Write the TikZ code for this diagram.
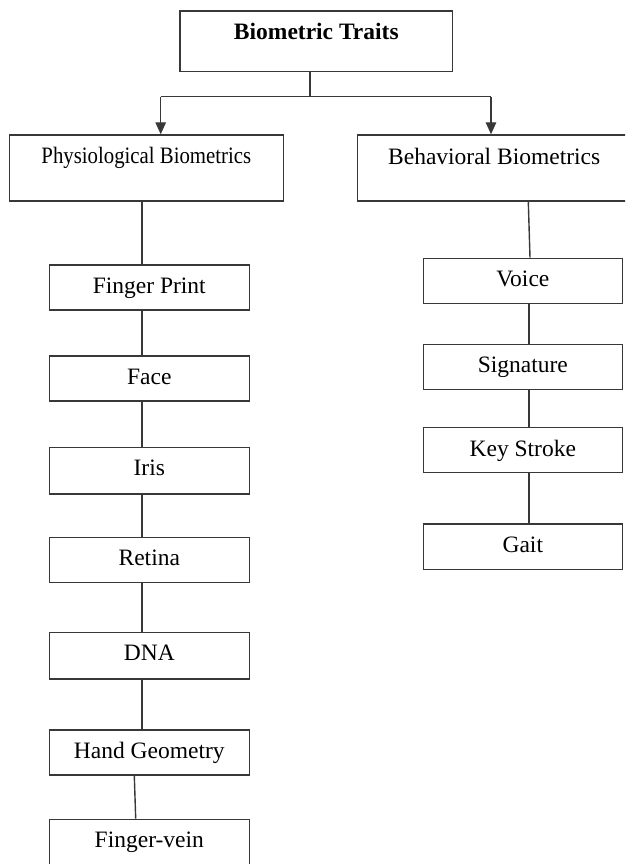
\documentclass[tikz,border=0pt]{standalone}
\usepackage{fontspec}
\setmainfont{Liberation Serif}
\usetikzlibrary{arrows.meta}
\begin{document}
\begin{tikzpicture}[x=1pt,y=-1pt,
  box/.style={draw=black!78, line width=1.4pt, inner sep=0pt, text height=28.5pt,
              font=\fontsize{23.5}{28}\selectfont},
  lbox/.style={box, minimum width=200pt, minimum height=45pt, text depth=16.5pt},
  rbox/.style={box, minimum width=199pt, minimum height=45pt, text depth=16.5pt},
  line/.style={draw=black!78, line width=1.4pt},
  arr/.style={line, -{Triangle[length=12pt,width=10.5pt]}}]
\useasboundingbox (0,0) rectangle (625,864);
\clip (0,0) rectangle (625,864);

% top level
\node[box, minimum width=272.7pt, minimum height=60.7pt, text height=28.3pt, text depth=32.4pt]
  (top) at (316.3,41.35) {\bfseries Biometric Traits};
\node[box, minimum width=274pt, minimum height=66pt, text height=28.3pt, text depth=37.7pt]
  (phys) at (146.3,168) {\scalebox{0.885}[1]{Physiological Biometrics}};
\node[box, minimum width=273.7pt, minimum height=66pt, text height=29.5pt, text depth=36.5pt]
  (beh) at (494.2,168) {Behavioral Biometrics};

% left column
\node[lbox] (fp) at (149.3,287.5) {Finger Print};
\node[lbox] (face) at (149.3,378.5) {Face};
\node[lbox, minimum height=46.7pt, text depth=18.2pt] (iris) at (149.3,470.65) {Iris};
\node[lbox] (retina) at (149.3,559.8) {Retina};
\node[lbox, minimum height=46.7pt, text depth=18.2pt] (dna) at (149.3,655.65) {DNA};
\node[lbox] (hg) at (149.3,752.5) {Hand Geometry};
\node[lbox, minimum height=45.7pt, text depth=17.2pt] (fv) at (149.3,842.15) {Finger-vein};

% right column
\node[rbox] (voice) at (522.8,280.8) {Voice};
\node[rbox] (sig) at (522.8,366.8) {Signature};
\node[rbox] (ks) at (522.8,450.2) {Key Stroke};
\node[rbox, minimum height=45.3pt, text depth=16.8pt] (gait) at (522.8,546.65) {Gait};

% bracket with arrows
\coordinate (jc) at (310,96.8);
\coordinate (jl) at (160.7,96.8);
\coordinate (jr) at (491,96.8);
\draw[line] (top.south -| jc) -- (jc);
\draw[line] (jl) -- (jr);
\draw[arr] (jl) -- (jl |- phys.north);
\draw[arr] (jr) -- (jr |- beh.north);

% left column connectors
\coordinate (lx) at (142,0);
\draw[line] (phys.south -| lx) -- (fp.north -| lx);
\draw[line] (fp.south -| lx) -- (face.north -| lx);
\draw[line] (face.south -| lx) -- (iris.north -| lx);
\draw[line] (iris.south -| lx) -- (retina.north -| lx);
\draw[line] (retina.south -| lx) -- (dna.north -| lx);
\draw[line] (dna.south -| lx) -- (hg.north -| lx);
\draw[line] ([xshift=-15pt]hg.south) -- ([xshift=-13.6pt]fv.north);

% right column connectors
\coordinate (rx) at (529,0);
\draw[line] ([xshift=34.1pt]beh.south) -- ([xshift=7.2pt]voice.north);
\draw[line] (voice.south -| rx) -- (sig.north -| rx);
\draw[line] (sig.south -| rx) -- (ks.north -| rx);
\draw[line] (ks.south -| rx) -- (gait.north -| rx);
\end{tikzpicture}
\end{document}
